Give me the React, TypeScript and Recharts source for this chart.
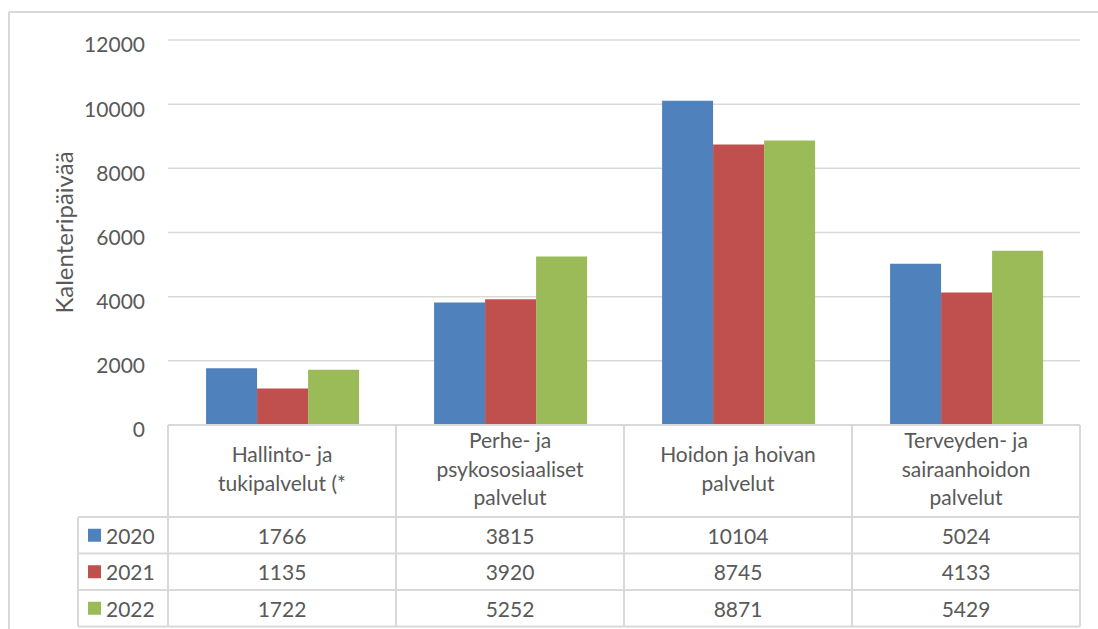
import { BarChart, Bar, XAxis, YAxis, CartesianGrid } from 'recharts';

const categories = [
  'Hallinto- ja\ntukipalvelut (*',
  'Perhe- ja\npsykososiaaliset\npalvelut',
  'Hoidon ja hoivan\npalvelut',
  'Terveyden- ja\nsairaanhoidon\npalvelut',
];
const years = ['2020', '2021', '2022'];
const values2020 = [1766, 3815, 10104, 5024];
const values2021 = [1135, 3920, 8745, 4133];
const values2022 = [1722, 5252, 8871, 5429];
const yTicks = [0, 2000, 4000, 6000, 8000, 10000, 12000];

const COLORS = ['#4F81BD', '#C0504D', '#9BBB59'];
const FONT = 'Lato, "Open Sans", sans-serif';
const TEXT = '#595959';
const LINE = '#d9d9d9';

const W = 1098;
const H = 629;
const PLOT_LEFT = 168;
const PLOT_RIGHT = 1080;
const PLOT_TOP = 40;
const PLOT_BOTTOM = 425;
const HEADER_BOTTOM = 517;
const ROW_H = 36.5;
const LEGEND_LEFT = 78;

const series = [values2020, values2021, values2022];

const data = categories.map((name, i) => ({
  name,
  y2020: values2020[i],
  y2021: values2021[i],
  y2022: values2022[i],
}));

const YLabel = (props: any) => {
  const vb = props.viewBox || {};
  const cx = 63;
  const cy = vb.height ? vb.y + vb.height / 2 : (PLOT_TOP + PLOT_BOTTOM) / 2;
  return (
    <text
      x={cx}
      y={cy}
      transform={`rotate(-90 ${cx} ${cy})`}
      textAnchor='middle'
      dominantBaseline='central'
      fill={TEXT}
      fontSize={24}
      fontFamily={FONT}
    >
      Kalenteripäivää
    </text>
  );
};

const DataTable = () => {
  const colW = (PLOT_RIGHT - PLOT_LEFT) / categories.length;
  const tableBottom = HEADER_BOTTOM + ROW_H * years.length;
  const headerMid = (PLOT_BOTTOM + HEADER_BOTTOM) / 2 - 3;
  const lineH = 28.5;

  return (
    <svg width={W} height={H} style={{ position: 'absolute', left: 0, top: 0 }}>
      {/* outer chart border */}
      <line x1={9} y1={12} x2={W} y2={12} stroke={LINE} strokeWidth={2} />
      <line x1={9} y1={12} x2={9} y2={H} stroke={LINE} strokeWidth={2} />

      {/* header row */}
      <line x1={PLOT_LEFT} y1={PLOT_BOTTOM} x2={PLOT_RIGHT} y2={PLOT_BOTTOM} stroke={LINE} strokeWidth={2} />
      {categories.map((_, i) => (
        <line key={`v-${i}`} x1={PLOT_LEFT + i * colW} y1={PLOT_BOTTOM} x2={PLOT_LEFT + i * colW} y2={tableBottom} stroke={LINE} strokeWidth={2} />
      ))}
      <line x1={PLOT_RIGHT} y1={PLOT_BOTTOM} x2={PLOT_RIGHT} y2={tableBottom} stroke={LINE} strokeWidth={2} />
      <line x1={LEGEND_LEFT} y1={HEADER_BOTTOM} x2={LEGEND_LEFT} y2={tableBottom} stroke={LINE} strokeWidth={2} />
      {[0, 1, 2, 3].map((r) => (
        <line key={`h-${r}`} x1={LEGEND_LEFT} y1={HEADER_BOTTOM + r * ROW_H} x2={PLOT_RIGHT} y2={HEADER_BOTTOM + r * ROW_H} stroke={LINE} strokeWidth={2} />
      ))}

      {/* category headers */}
      {categories.map((cat, i) => {
        const lines = cat.split('\n');
        const startY = headerMid - ((lines.length - 1) * lineH) / 2;
        return (
          <text key={`c-${i}`} textAnchor='middle' fill={TEXT} fontSize={21} fontFamily={FONT}>
            {lines.map((ln, j) => (
              <tspan key={j} x={PLOT_LEFT + (i + 0.5) * colW} y={startY + j * lineH} dominantBaseline='central'>
                {ln}
              </tspan>
            ))}
          </text>
        );
      })}

      {/* rows */}
      {years.map((yr, r) => {
        const cy = HEADER_BOTTOM + (r + 0.5) * ROW_H;
        return (
          <g key={yr}>
            <rect x={88} y={cy - 6.5} width={13} height={13} fill={COLORS[r]} />
            <text x={106} y={cy} dominantBaseline='central' fill={TEXT} fontSize={21} fontFamily={FONT}>
              {yr}
            </text>
            {series[r].map((v, i) => (
              <text key={i} x={PLOT_LEFT + (i + 0.5) * colW} y={cy} textAnchor='middle' dominantBaseline='central' fill={TEXT} fontSize={21} fontFamily={FONT}>
                {v}
              </text>
            ))}
          </g>
        );
      })}
    </svg>
  );
};

export default function App() {
  return (
    <div style={{ position: 'absolute', left: 0, top: 0, width: W, height: H, background: '#fff' }}>
      <BarChart
        width={W}
        height={H}
        data={data}
        margin={{ top: PLOT_TOP, right: W - PLOT_RIGHT, left: 68, bottom: H - PLOT_BOTTOM }}
        barCategoryGap='16.7%'
        barGap={0}
      >
        <CartesianGrid vertical={false} stroke={LINE} strokeWidth={1.5} />
        <XAxis dataKey='name' hide />
        <YAxis
          width={100}
          domain={[0, 12000]}
          ticks={yTicks}
          interval={0}
          tickLine={false}
          axisLine={false}
          tickMargin={17}
          tick={{ fill: TEXT, fontSize: 21, fontFamily: FONT, dy: 5 }}
          label={<YLabel />}
        />
        <Bar dataKey='y2020' fill={COLORS[0]} isAnimationActive={false} />
        <Bar dataKey='y2021' fill={COLORS[1]} isAnimationActive={false} />
        <Bar dataKey='y2022' fill={COLORS[2]} isAnimationActive={false} />
      </BarChart>
      <DataTable />
    </div>
  );
}
